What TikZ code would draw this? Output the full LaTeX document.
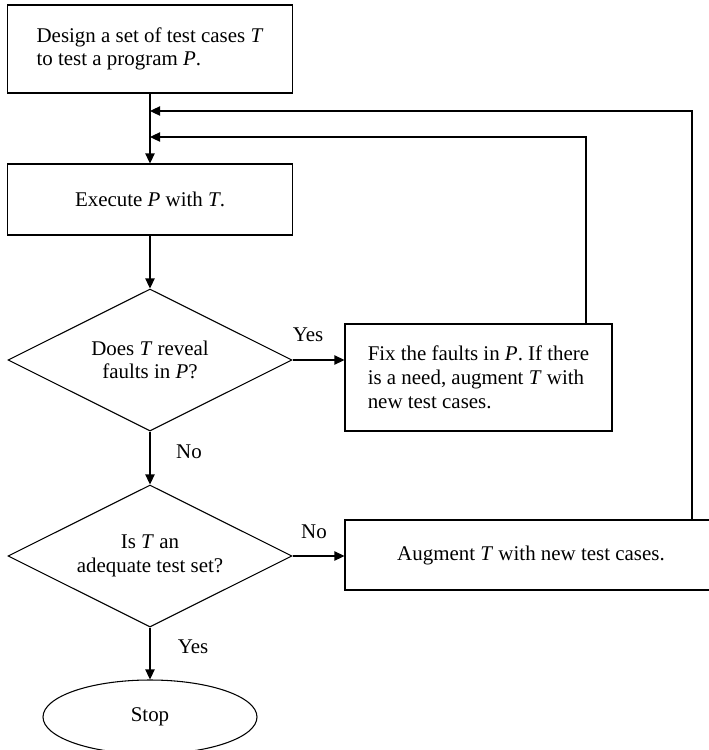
\documentclass[tikz,border=0pt]{standalone}
\usepackage{fontspec}
\setmainfont{Liberation Serif}
\usetikzlibrary{shapes.geometric,arrows.meta}
\begin{document}
\begin{tikzpicture}[x=0.75pt,y=-0.75pt,
  every node/.style={font=\fontsize{15.7}{17.5}\selectfont},
  line/.style={line width=0.8pt},
  flow/.style={line, -{Triangle[length=7.5pt,width=7pt]}},
  procbox/.style={draw, line width=0.8pt, inner sep=0pt},
  decision/.style={draw, line width=0.8pt, diamond, inner sep=0pt,
    minimum width=213pt, minimum height=106.5pt},
  terminal/.style={draw, line width=0.8pt, ellipse, inner sep=0pt,
    minimum width=160.5pt, minimum height=55.5pt},
  lbl/.style={inner sep=0pt}]
\useasboundingbox (0,0) rectangle (709,750);
\clip (0,0) rectangle (709,750);

% process boxes
\node[procbox, minimum width=213.75pt, minimum height=66pt, align=left] (b1) at (150,49)
  {Design a set of test cases \textit{T}\\to test a program \textit{P}.};
\node[procbox, minimum width=213.75pt, minimum height=53.25pt] (b2) at (150,199.5)
  {Execute \textit{P} with \textit{T}.};
\node[procbox, minimum width=200.25pt, minimum height=80.25pt, align=left,
  font=\fontsize{15.7}{18}\selectfont] (b3) at (478.5,377.5)
  {Fix the faults in \textit{P}. If there\\is a need, augment \textit{T} with\\new test cases.};
\node[procbox, minimum width=279pt, minimum height=52.5pt] (b4) at (531,555)
  {Augment \textit{T} with new test cases.};

% decisions
\node[decision] (d1) at (150,360) {};
\node[align=center] (t1) at (d1.center) {Does \textit{T} reveal\\faults in \textit{P}?};
\node[decision] (d2) at (150,556) {};
\node[align=center] (t2) at (d2.center) {Is \textit{T} an\\adequate test set?};

% end
\node[terminal] (stop) at (150,717) {Stop};

% junctions on the main line
\coordinate (j1) at (150,111);
\coordinate (j2) at (150,137);
\coordinate (u1) at (692,111);
\coordinate (u2) at (586,137);

% connectors
\draw[flow] (b1.south) -- (b2.north);
\draw[flow] (b2.south) -- (d1.north);
\draw[flow] (d1.east) -- (d1.east -| b3.west);
\draw[flow] (d1.south) -- (d2.north);
\draw[flow] (d2.east) -- (d2.east -| b4.west);
\draw[flow] (d2.south) -- (stop.north);
\draw[flow] (b3.north -| u2) -- (u2) -- (j2);
\draw[flow] (b4.north -| u1) -- (u1) -- (j1);

% branch labels
\node[lbl] (l1) at (308,335) {Yes};
\node[lbl] (l2) at (189,452) {No};
\node[lbl] (l3) at (314,532) {No};
\node[lbl] (l4) at (193,647) {Yes};
\end{tikzpicture}
\end{document}
